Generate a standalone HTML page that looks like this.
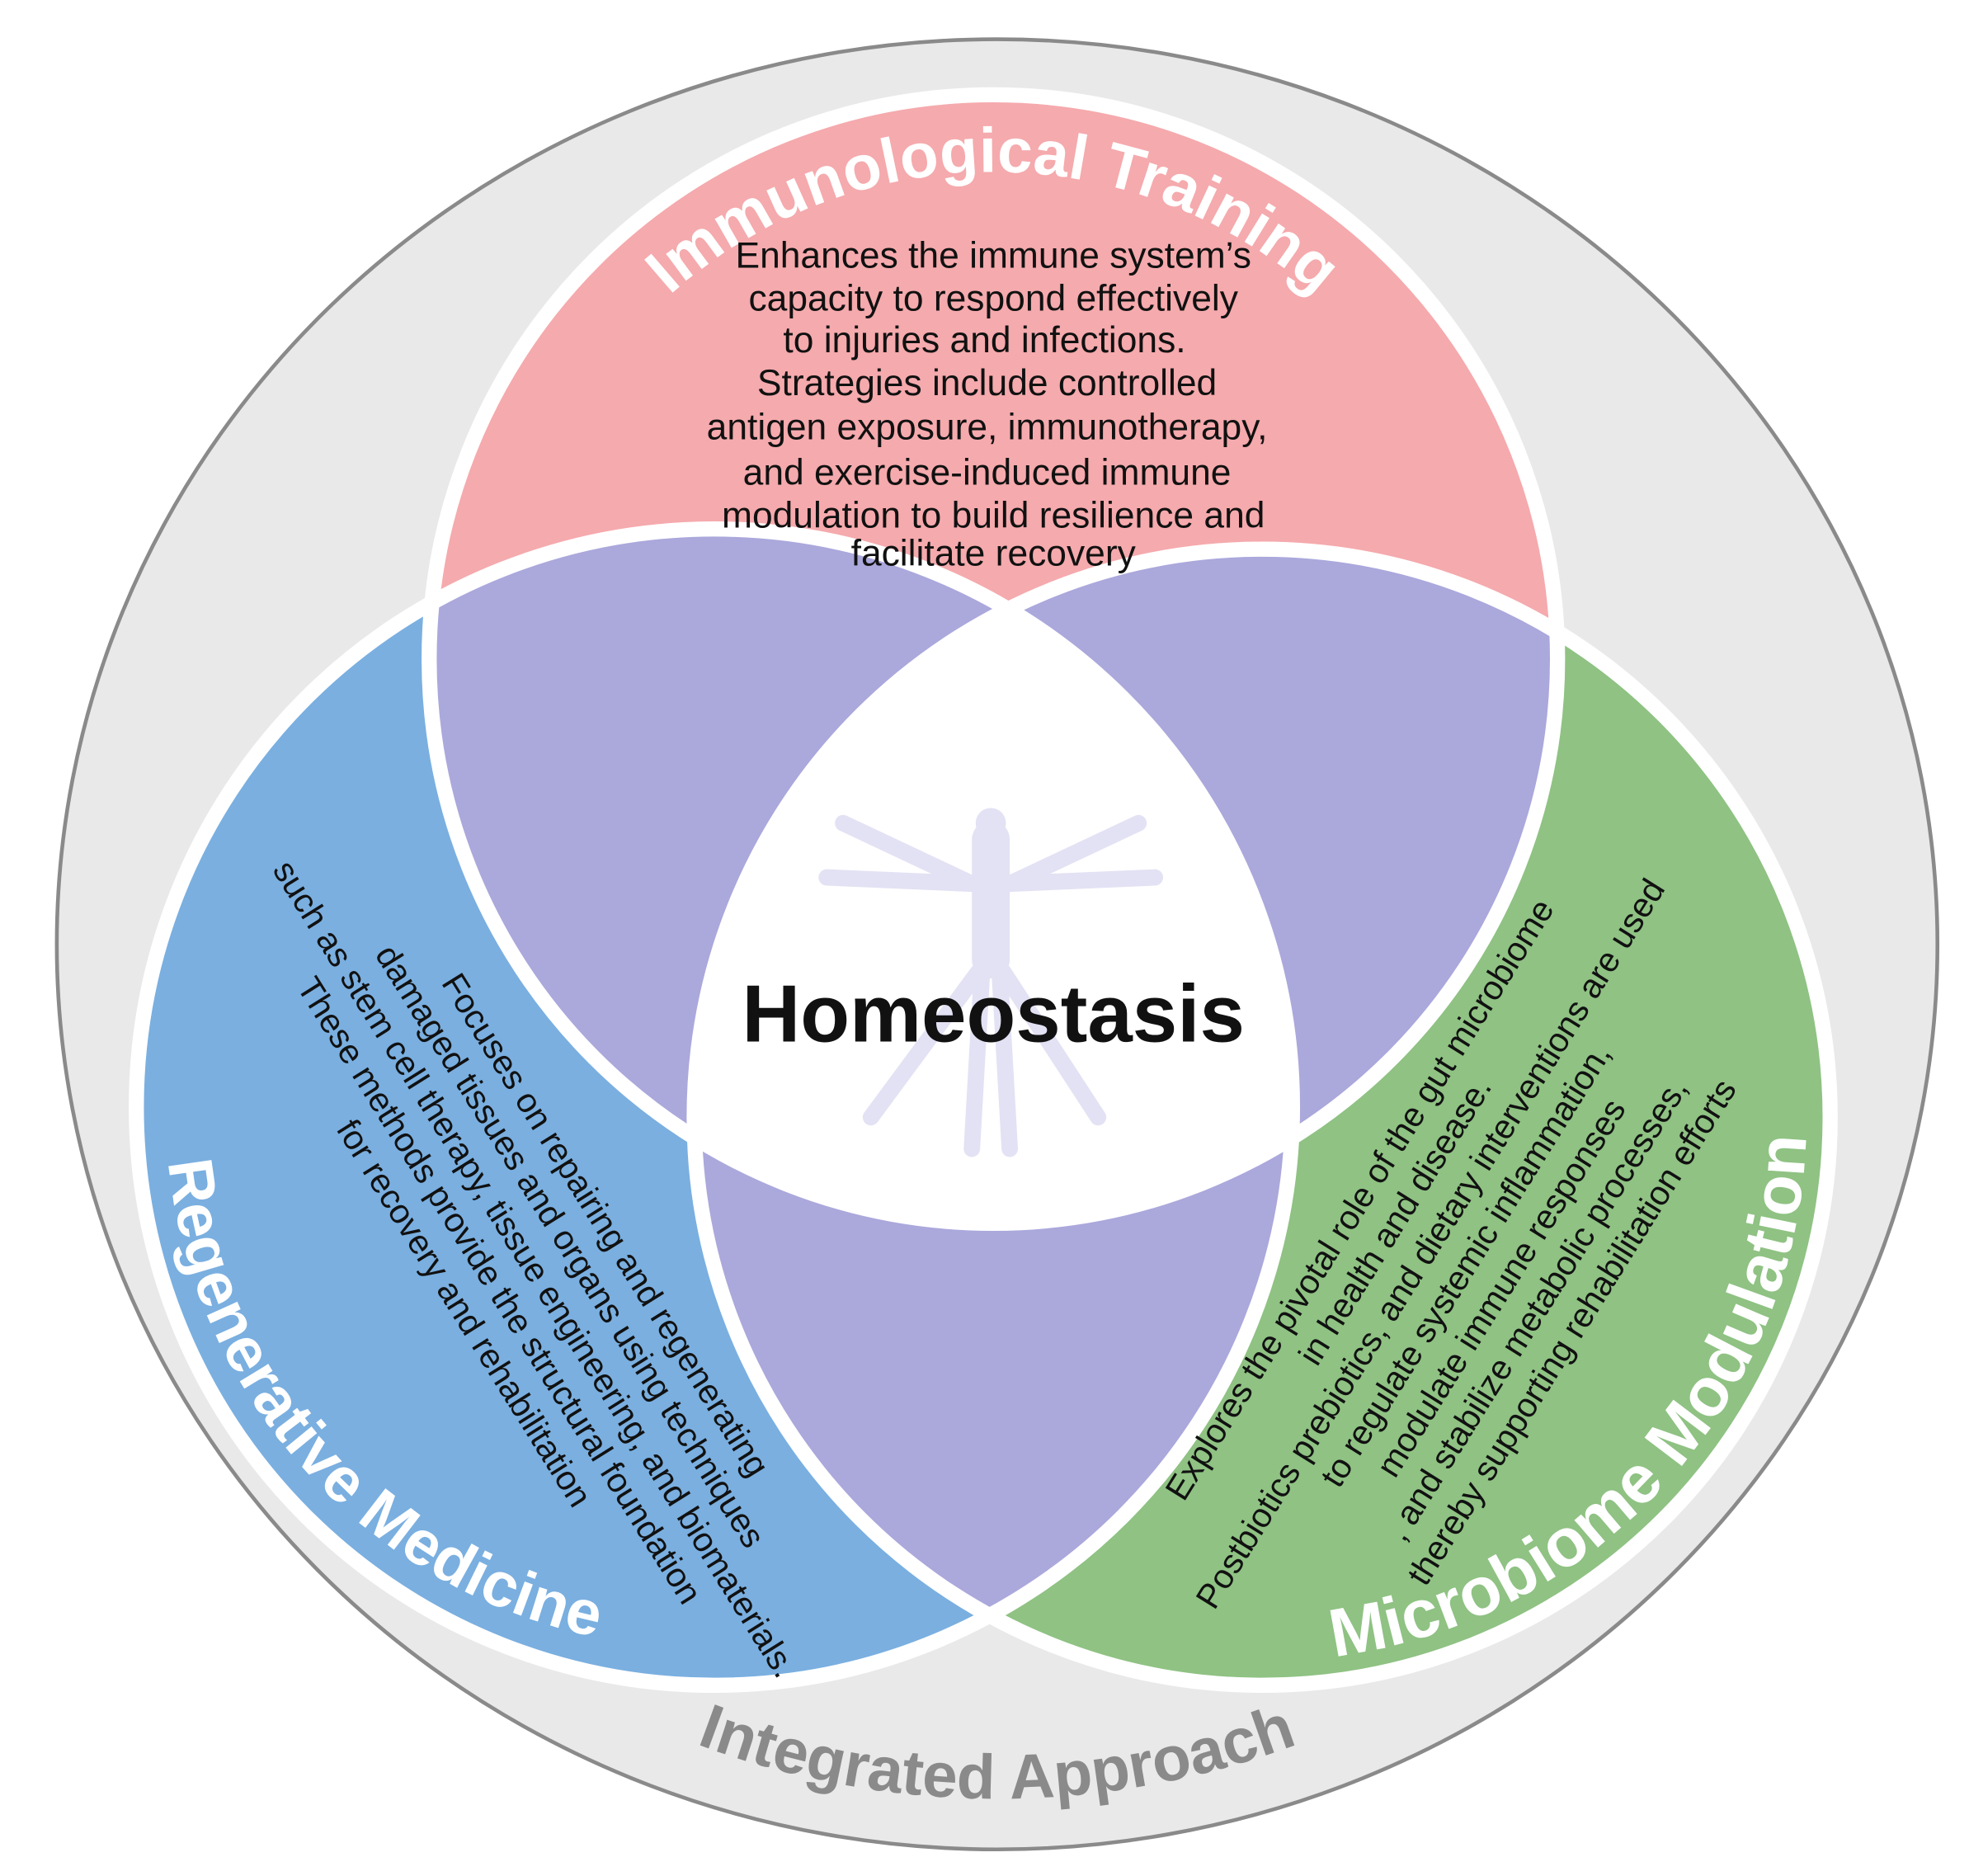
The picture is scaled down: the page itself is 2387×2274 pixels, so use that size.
<!DOCTYPE html>
<html><head><meta charset="utf-8"><style>html,body{margin:0;padding:0;background:#fff}svg{display:block}</style></head>
<body>
<svg width="2387" height="2274" viewBox="0 0 1560 1486" xmlns="http://www.w3.org/2000/svg" font-family="Liberation Sans, sans-serif">
<defs>
<clipPath id="cP"><circle cx="787" cy="522" r="447"/></clipPath>
<clipPath id="cB"><circle cx="566" cy="877" r="458"/></clipPath>
<clipPath id="cG"><circle cx="1000" cy="885" r="450"/></clipPath>
<path id="pP" d="M425,390 A385,385 0 0 1 1149,390"/>
<path id="pB" d="M138,802 A428,428 0 0 0 640,1298"/>
<path id="pG" d="M918,1307 A428,428 0 0 0 1406.6,745"/>
<path id="pI" d="M402,1302.6 A677,677 0 0 0 1178,1302.6"/>
</defs>
<ellipse cx="790" cy="748" rx="745" ry="717" fill="#e9e9e9" stroke="#8a8a8a" stroke-width="3"/>
<circle cx="787" cy="522" r="447" fill="#f5aaad"/>
<circle cx="566" cy="877" r="458" fill="#7aafe0"/>
<circle cx="1000" cy="885" r="450" fill="#8fc283"/>
<g clip-path="url(#cP)"><circle cx="566" cy="877" r="458" fill="#aba8dc"/><circle cx="1000" cy="885" r="450" fill="#aba8dc"/></g>
<g clip-path="url(#cB)"><circle cx="1000" cy="885" r="450" fill="#aba8dc"/></g>
<g clip-path="url(#cP)"><g clip-path="url(#cB)"><circle cx="1000" cy="885" r="450" fill="#fff"/></g></g>
<g fill="none" stroke="#fff" stroke-width="12">
<circle cx="787" cy="522" r="447"/><circle cx="566" cy="877" r="458"/><circle cx="1000" cy="885" r="450"/>
</g>
<g stroke="#e3e2f4" stroke-linecap="round" fill="none">
<line x1="785" y1="665" x2="785" y2="760" stroke-width="30"/>
<circle cx="785" cy="652" r="12" fill="#e3e2f4" stroke="none"/>
<line x1="668" y1="652" x2="770" y2="700" stroke-width="13"/>
<line x1="902" y1="652" x2="800" y2="700" stroke-width="13"/>
<line x1="655" y1="695" x2="770" y2="700" stroke-width="13"/>
<line x1="915" y1="695" x2="800" y2="700" stroke-width="13"/>
<line x1="775" y1="770" x2="690" y2="885" stroke-width="13"/>
<line x1="795" y1="770" x2="870" y2="885" stroke-width="13"/>
<line x1="778" y1="770" x2="770" y2="910" stroke-width="13"/>
<line x1="792" y1="770" x2="800" y2="910" stroke-width="13"/>
</g>
<text x="787" y="825" text-anchor="middle" font-size="64" font-weight="bold" fill="#111">Homeostasis</text>
<g font-weight="bold" font-size="50" fill="#fff">
<text><textPath href="#pP" startOffset="50%" text-anchor="middle">Immunological Training</textPath></text>
<text><textPath href="#pB" startOffset="47%" text-anchor="middle">Regenerative Medicine</textPath></text>
<text font-size="54"><textPath href="#pG" startOffset="49%" text-anchor="middle">Microbiome Modulation</textPath></text>
</g>
<text font-weight="bold" font-size="50" fill="#8a8a8a"><textPath href="#pI" startOffset="50%" text-anchor="middle">Integrated Approach</textPath></text>
<g font-size="29" fill="#111" text-anchor="middle">
<text x="787" y="212">Enhances the immune system’s</text>
<text x="787" y="246">capacity to respond effectively</text>
<text x="780" y="279">to injuries and infections.</text>
<text x="782" y="313">Strategies include controlled</text>
<text x="782" y="348">antigen exposure, immunotherapy,</text>
<text x="782" y="384">and exercise-induced immune</text>
<text x="787" y="418">modulation to build resilience and</text>
<text x="787" y="448">facilitate recovery</text>
</g>
<g font-size="27" fill="#111" text-anchor="middle">
<text transform="translate(472,975) rotate(58)">Focuses on repairing and regenerating</text>
<text transform="translate(444,992) rotate(58)">damaged tissues and organs using techniques</text>
<text transform="translate(416,1010) rotate(58)">such as stem cell therapy, tissue engineering, and biomaterials.</text>
<text transform="translate(388,1027) rotate(58)">These methods provide the structural foundation</text>
<text transform="translate(360,1045) rotate(58)">for recovery and rehabilitation</text>
<text transform="translate(1085,955) rotate(-58)">Explores the pivotal role of the gut microbiome</text>
<text transform="translate(1113,972) rotate(-58)">in health and disease.</text>
<text transform="translate(1141,990) rotate(-58)">Postbiotics  prebiotics, and dietary interventions are used</text>
<text transform="translate(1169,1007) rotate(-58)">to regulate systemic inflammation,</text>
<text transform="translate(1197,1025) rotate(-58)">modulate immune responses</text>
<text transform="translate(1225,1042) rotate(-58)">, and stabilize metabolic processes,</text>
<text transform="translate(1253,1060) rotate(-58)">thereby supporting rehabilitation efforts</text>
</g>
</svg>
</body></html>
